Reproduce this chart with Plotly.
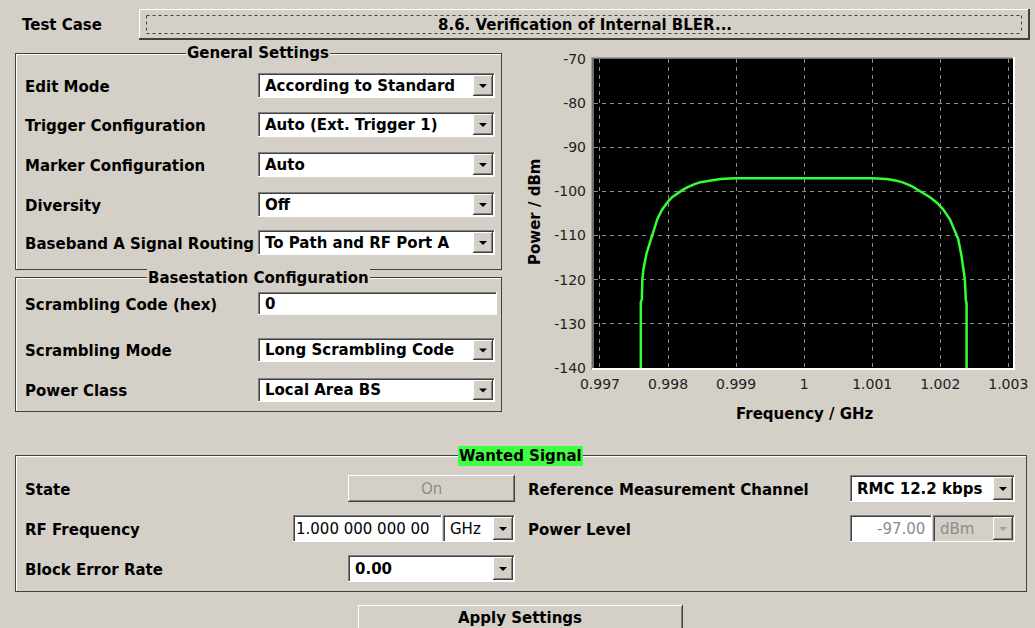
import plotly.graph_objects as go

# ---------------- chart data ----------------
freq_left = [0.997600, 0.997600, 0.997615, 0.997622, 0.997640, 0.997655, 0.997685, 0.997718,
             0.997755, 0.997792, 0.997842, 0.997910, 0.997988, 0.998060, 0.998135, 0.998210,
             0.998282, 0.998380, 0.998477, 0.998620, 0.998770, 0.998900, 0.999000]
power_left = [-140, -125, -124.5, -120, -117.5, -116.2, -114, -112.4,
              -110.5, -108.6, -106.3, -104.2, -102.5, -101.3, -100.4, -99.7,
              -99.1, -98.4, -97.9, -97.5, -97.2, -97.05, -97.0]
freq_right = [1.001000, 1.001214, 1.001340, 1.001458, 1.001580, 1.001702, 1.001780, 1.001849,
              1.001947, 1.002044, 1.002142, 1.002200, 1.002264, 1.002313, 1.002340, 1.002362,
              1.002375, 1.002387, 1.002387]
power_right = [-97.0, -97.2, -97.5, -98.0, -98.8, -99.9, -100.6, -101.3,
               -102.5, -104.1, -106.3, -108.3, -110.8, -114.7, -117.5, -120.0,
               -124.5, -125.5, -140]

x_ticks = [0.997, 0.998, 0.999, 1.0, 1.001, 1.002, 1.003]
x_tick_text = ["0.997", "0.998", "0.999", "1", "1.001", "1.002", "1.003"]
y_ticks = [-70, -80, -90, -100, -110, -120, -130, -140]
y_tick_text = ["-70", "-80", "-90", "-100", "-110", "-120", "-130", "-140"]
x_title = "Frequency / GHz"
y_title = "Power / dBm"

# ---------------- GUI texts ----------------
test_case_label = "Test Case"
test_case_value = "8.6. Verification of Internal BLER..."
general_title = "General Settings"
general_labels = ["Edit Mode", "Trigger Configuration", "Marker Configuration", "Diversity",
                  "Baseband A Signal Routing"]
general_values = ["According to Standard", "Auto (Ext. Trigger 1)", "Auto", "Off",
                  "To Path and RF Port A"]
bs_title = "Basestation Configuration"
bs_labels = ["Scrambling Code (hex)", "Scrambling Mode", "Power Class"]
bs_values = ["0", "Long Scrambling Code", "Local Area BS"]
wanted_title = "Wanted Signal"
wanted_left_labels = ["State", "RF Frequency", "Block Error Rate"]
state_value = "On"
rf_freq_value = "1.000 000 000 00"
rf_freq_unit = "GHz"
bler_value = "0.00"
wanted_right_labels = ["Reference Measurement Channel", "Power Level"]
rmc_value = "RMC 12.2 kbps"
power_value = "-97.00"
power_unit = "dBm"
apply_text = "Apply Settings"

# ---------------- geometry helpers ----------------
W, H = 1035, 628
PL, PR, PT, PB = 594, 1013, 59, 368
BG = "#d4d0c8"
DARK = "#404040"
SHADOW = "#808080"
LIGHT = "#ffffff"
FONT = "DejaVu Sans"


def fx(x):
    return (x - PL) / (PR - PL)


def fy(y):
    return (PB - y) / (PB - PT)


shapes, annos = [], []


def box(x0, y0, x1, y1, fill):
    shapes.append(dict(type="rect", xref="paper", yref="paper", x0=fx(x0), x1=fx(x1),
                       y0=fy(y1), y1=fy(y0), fillcolor=fill, line=dict(width=0), layer="above"))


def seg(x0, y0, x1, y1, color, w=1, dash=None):
    ln = dict(color=color, width=w)
    if dash:
        ln["dash"] = dash
    shapes.append(dict(type="line", xref="paper", yref="paper", x0=fx(x0), x1=fx(x1),
                       y0=fy(y0), y1=fy(y1), line=ln, layer="above"))


def txt(x, y, s, size=15, bold=True, color="#000000", anchor="left", bg=None, pad=0, angle=0):
    a = dict(xref="paper", yref="paper", x=fx(x), y=fy(y), text=s, showarrow=False,
             xanchor=anchor, yanchor="middle", textangle=angle,
             font=dict(family=FONT, size=size, color=color, weight="bold" if bold else "normal"),
             borderpad=pad, borderwidth=0)
    if bg:
        a["bgcolor"] = bg
    annos.append(a)


def raised(x0, y0, x1, y1, fill=BG):
    box(x0, y0, x1, y1, fill)
    seg(x0, y0 + 0.5, x1 - 1, y0 + 0.5, LIGHT)
    seg(x0 + 0.5, y0, x0 + 0.5, y1 - 1, LIGHT)
    seg(x0, y1 - 0.5, x1, y1 - 0.5, DARK)
    seg(x1 - 0.5, y0, x1 - 0.5, y1, DARK)
    seg(x0 + 1, y1 - 1.5, x1 - 1, y1 - 1.5, SHADOW)
    seg(x1 - 1.5, y0 + 1, x1 - 1.5, y1 - 1, SHADOW)


def sunken(x0, y0, x1, y1, fill):
    box(x0, y0, x1, y1, fill)
    seg(x0, y0 + 0.5, x1, y0 + 0.5, SHADOW)
    seg(x0 + 0.5, y0, x0 + 0.5, y1, SHADOW)
    seg(x0 + 1, y0 + 1.5, x1 - 1, y0 + 1.5, DARK)
    seg(x0 + 1.5, y0 + 1, x0 + 1.5, y1 - 1, DARK)
    seg(x0, y1 - 0.5, x1, y1 - 0.5, LIGHT)
    seg(x1 - 0.5, y0, x1 - 0.5, y1, LIGHT)


def arrow(cx, cy, color="#000000"):
    path = (f"M {fx(cx - 4)},{fy(cy - 2)} L {fx(cx + 4)},{fy(cy - 2)} "
            f"L {fx(cx)},{fy(cy + 2)} Z")
    shapes.append(dict(type="path", xref="paper", yref="paper", path=path, fillcolor=color,
                       line=dict(width=0), layer="above"))


def dropdown(x0, y0, x1, y1, text, enabled=True, bold=True):
    sunken(x0, y0, x1, y1, "#ffffff" if enabled else BG)
    bx0, bx1 = x1 - 22, x1 - 2
    raised(bx0, y0 + 2, bx1, y1 - 2)
    arrow((bx0 + bx1) / 2, (y0 + y1) / 2 + 0.5, "#000000" if enabled else "#a0a0a0")
    txt(x0 + 7, (y0 + y1) / 2, text, bold=bold, color="#000000" if enabled else "#8c8c8c")


def group(x0, y0, x1, y1, title, title_x, title_bg=BG):
    seg(x0, y0 + 0.5, x1, y0 + 0.5, DARK)
    seg(x0 + 0.5, y0, x0 + 0.5, y1, DARK)
    seg(x0, y1 - 0.5, x1, y1 - 0.5, DARK)
    seg(x1 - 0.5, y0, x1 - 0.5, y1, DARK)
    seg(x0 + 1, y0 + 1.5, x1 - 1, y0 + 1.5, LIGHT)
    seg(x0 + 1.5, y0 + 1, x0 + 1.5, y1 - 1, LIGHT)
    txt(title_x, y0 + 0.5, title, anchor="center", bg=title_bg, pad=1)


# ---------------- top row ----------------
txt(22, 25, test_case_label)
raised(139, 9, 1030, 40)
seg(139, 38.5, 1030, 38.5, DARK)
seg(1028.5, 9, 1028.5, 40, DARK)
seg(146.5, 15.5, 1021.5, 15.5, DARK, dash="dot")
seg(146.5, 33.5, 1021.5, 33.5, DARK, dash="dot")
seg(146.5, 15.5, 146.5, 33.5, DARK, dash="dot")
seg(1021.5, 15.5, 1021.5, 33.5, DARK, dash="dot")
txt(585, 25, test_case_value, anchor="center")

# ---------------- General Settings ----------------
group(15, 53, 502, 270, general_title, 258)
gen_rows = [(73, 98), (112, 137), (152, 177), (192, 217), (230, 255)]
for lab, val, (y0, y1) in zip(general_labels, general_values, gen_rows):
    txt(25, (y0 + y1) / 2 + 1, lab)
    dropdown(258, y0, 495, y1, val)

# ---------------- Basestation Configuration ----------------
group(15, 277, 502, 412, bs_title, 258)
bs_rows = [(292, 315), (338, 362), (378, 402)]
for i, (lab, val, (y0, y1)) in enumerate(zip(bs_labels, bs_values, bs_rows)):
    txt(25, (y0 + y1) / 2 + 1, lab)
    if i == 0:
        sunken(258, y0, 497, y1, "#ffffff")
        txt(265, (y0 + y1) / 2, val)
    else:
        dropdown(258, y0, 495, y1, val)

# ---------------- Wanted Signal ----------------
group(15, 455, 1027, 592, wanted_title, 520, title_bg="#40ff40")
txt(25, 490, wanted_left_labels[0])
raised(348, 475, 515, 502)
txt(431, 489, state_value, bold=False, color="#8c8c8c", anchor="center")
txt(25, 530, wanted_left_labels[1])
sunken(293, 515, 442, 542, "#ffffff")
txt(296, 529, rf_freq_value, bold=False)
dropdown(443, 515, 515, 542, rf_freq_unit, bold=False)
txt(25, 570, wanted_left_labels[2])
dropdown(348, 555, 515, 582, bler_value)

txt(528, 490, wanted_right_labels[0])
dropdown(850, 475, 1015, 502, rmc_value)
txt(528, 530, wanted_right_labels[1])
sunken(850, 515, 932, 542, "#ffffff")
txt(925, 529, power_value, bold=False, color="#8c8c8c", anchor="right")
dropdown(933, 515, 1015, 542, power_unit, enabled=False, bold=False)

# ---------------- Apply button ----------------
raised(358, 605, 683, 640)
txt(520, 618, apply_text, anchor="center")

# ---------------- chart frame and titles ----------------
seg(PL - 3, PT - 1.5, PR + 1, PT - 1.5, "#a0a0a0", w=1)
seg(PL - 2, PT - 0.5, PR + 1, PT - 0.5, "#707070", w=1.2)
seg(PL - 2.5, PT - 2, PL - 2.5, PB + 2, "#a0a0a0", w=1)
seg(PL - 1, PT - 1, PL - 1, PB + 1, "#707070", w=2)
seg(PL - 2, PB + 1, PR + 2, PB + 1, LIGHT, w=2)
seg(PR + 1, PT - 2, PR + 1, PB + 2, LIGHT, w=2)
txt(805, 414, x_title, anchor="center")
txt(535, 212, y_title, anchor="center", angle=-90)

# ---------------- figure ----------------
fig = go.Figure(go.Scatter(x=freq_left + freq_right, y=power_left + power_right, mode="lines",
                           line=dict(color="#33ff33", width=2.5), hoverinfo="skip"))
fig.update_layout(width=W, height=H,
                  margin=dict(l=PL, r=W - PR, t=PT, b=H - PB, autoexpand=False),
                  paper_bgcolor=BG, plot_bgcolor="#000000", showlegend=False,
                  shapes=shapes, annotations=annos)
fig.update_xaxes(range=[0.996912, 1.003069], tickvals=x_ticks, ticktext=x_tick_text,
                 showgrid=True, gridcolor="#8c8c8c", griddash="4px,4px", gridwidth=1,
                 zeroline=False, showline=False, ticks="", ticklabelstandoff=6,
                 automargin=False, tickfont=dict(family=FONT, size=14, color="#222222"))
fig.update_yaxes(range=[-140, -70], tickvals=y_ticks, ticktext=y_tick_text,
                 showgrid=True, gridcolor="#8c8c8c", griddash="4px,4px", gridwidth=1,
                 zeroline=False, showline=False, ticks="", ticklabelstandoff=7,
                 automargin=False, tickfont=dict(family=FONT, size=14, color="#222222"))
fig.write_html(
    "out.html",
    config={"displayModeBar": False, "staticPlot": True},
    post_script=("document.body.style.margin='0';document.body.style.padding='0';"
                 "document.body.style.overflow='hidden';"
                 "document.body.style.background='#d4d0c8';"),
)
